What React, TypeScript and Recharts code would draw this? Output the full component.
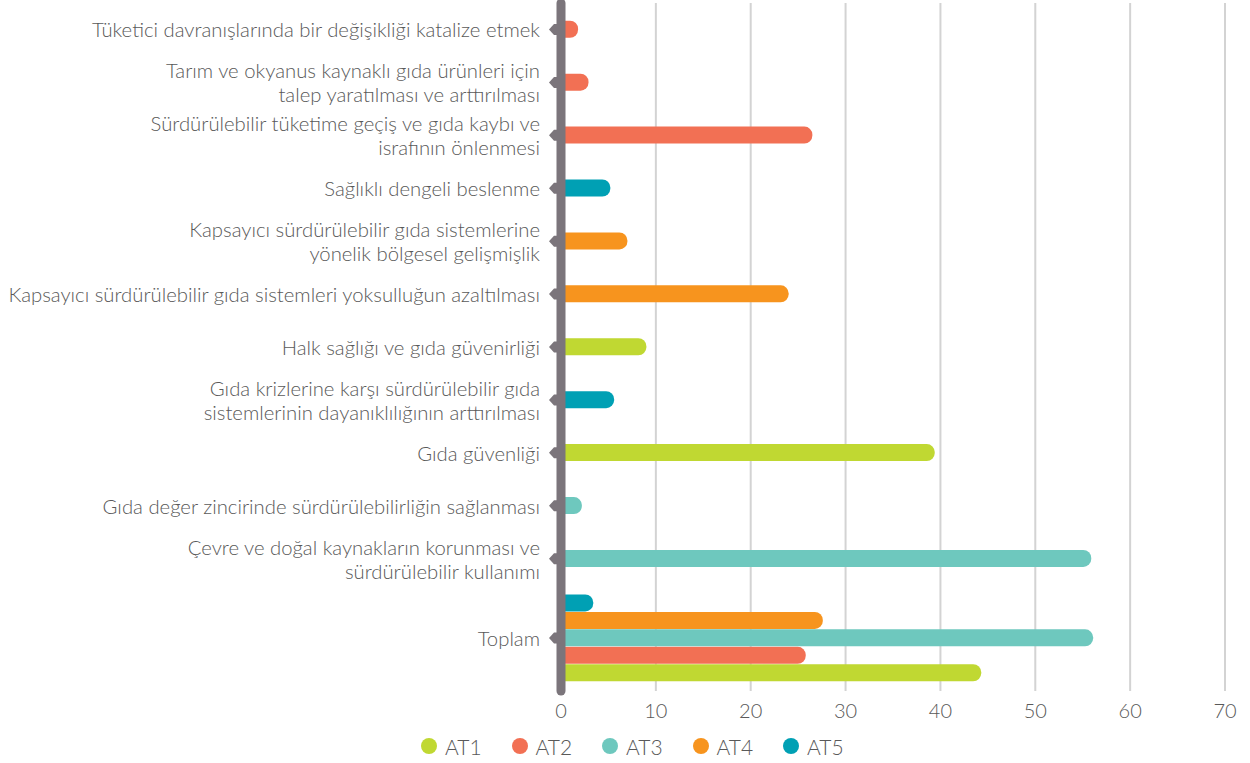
import React from "react";
import {
  BarChart,
  Bar,
  XAxis,
  YAxis,
  CartesianGrid,
  Cell,
  Legend,
  ReferenceLine,
} from "recharts";

// ---------- data ----------
const categories = [
  "Tüketici davranışlarında bir değişikliği katalize etmek",
  "Tarım ve okyanus kaynaklı gıda ürünleri için\ntalep yaratılması ve arttırılması",
  "Sürdürülebilir tüketime geçiş ve gıda kaybı ve\nisrafının önlenmesi",
  "Sağlıklı dengeli beslenme",
  "Kapsayıcı sürdürülebilir gıda sistemlerine\nyönelik bölgesel gelişmişlik",
  "Kapsayıcı sürdürülebilir gıda sistemleri yoksulluğun azaltılması",
  "Halk sağlığı ve gıda güvenirliği",
  "Gıda krizlerine karşı sürdürülebilir gıda\nsistemlerinin dayanıklılığının arttırılması",
  "Gıda güvenliği",
  "Gıda değer zincirinde sürdürülebilirliğin sağlanması",
  "Çevre ve doğal kaynakların korunması ve\nsürdürülebilir kullanımı",
];
const categorySeries = ["AT2", "AT2", "AT2", "AT5", "AT4", "AT4", "AT1", "AT5", "AT1", "AT3", "AT3"];
const categoryValues = [1.8, 2.9, 26.5, 5.2, 7.0, 24.0, 9.0, 5.6, 39.4, 2.2, 55.9];

const totalLabel = "Toplam";
const seriesNames = ["AT1", "AT2", "AT3", "AT4", "AT5"];
const totalValues = [44.3, 25.8, 56.1, 27.6, 3.4];

const seriesColors = ["#c0d832", "#f27054", "#6ec8be", "#f7941e", "#00a0b4"];
const xTicks = [0, 10, 20, 30, 40, 50, 60, 70];

// ---------- layout (slot units on the category axis) ----------
const TOTAL_SLOT_SPAN = 2;
const SLOT_COUNT = categories.length + TOTAL_SLOT_SPAN;
const TOTAL_CENTER = categories.length + TOTAL_SLOT_SPAN / 2;
const SUB_STEP = 0.33;

const colorOf = (name: string) => seriesColors[seriesNames.indexOf(name)];

const chartData = [
  ...categories.map((_, i) => ({
    pos: i + 0.5,
    value: categoryValues[i],
    color: colorOf(categorySeries[i]),
  })),
  ...seriesNames.map((name, k) => ({
    pos: TOTAL_CENTER + (2 - k) * SUB_STEP,
    value: totalValues[k],
    color: colorOf(name),
  })),
];

const yTickPositions = [...categories.map((_, i) => i + 0.5), TOTAL_CENTER];
const yTickLabels = [...categories, totalLabel];

const TEXT_COLOR = "#595959";
const AXIS_COLOR = "#7b757b";
const FONT = "'Lato Light', Lato, 'Open Sans', sans-serif";

const YTick = (props: any) => {
  const { x, y, index } = props;
  const label: string = yTickLabels[index] ?? "";
  const lines = label.split("\n");
  const lh = 24;
  const startDy = -((lines.length - 1) * lh) / 2;
  return (
    <g>
      <polygon
        points={`${x - 12},${y} ${x - 7},${y - 5.5} ${x},${y - 5.5} ${x},${y + 5.5} ${x - 7},${y + 5.5}`}
        fill={AXIS_COLOR}
      />
      <text
        x={x - 21}
        y={y}
        textAnchor="end"
        fill={TEXT_COLOR}
        fontSize={20.3}
        fontFamily={FONT}
        fontWeight={300}
      >
        {lines.map((ln, i) => (
          <tspan key={i} x={x - 21} y={y + startDy + i * lh} dominantBaseline="central">
            {ln}
          </tspan>
        ))}
      </text>
    </g>
  );
};

const LegendContent = () => (
  <div
    style={{
      height: 42,
      paddingTop: 8,
      paddingLeft: 421,
      boxSizing: "border-box",
      display: "flex",
      justifyContent: "flex-start",
      alignItems: "center",
      fontFamily: FONT,
      fontWeight: 300,
      fontSize: 21,
      color: TEXT_COLOR,
    }}
  >
    {seriesNames.map((name, k) => (
      <div key={name} style={{ display: "flex", alignItems: "center", width: k < seriesNames.length - 1 ? 90.5 : undefined }}>
        <span
          style={{
            display: "inline-block",
            width: 16,
            height: 16,
            borderRadius: 8,
            background: seriesColors[k],
            marginRight: 8,
          }}
        />
        <span>{name}</span>
      </div>
    ))}
  </div>
);

export default function App() {
  return (
    <div style={{ position: "absolute", left: 0, top: 0, fontFamily: FONT, fontWeight: 300 }}>
      <BarChart
        width={1250}
        height={763}
        data={chartData}
        layout="vertical"
        margin={{ top: 3, right: 25, left: 0, bottom: 0 }}
      >
        <CartesianGrid horizontal={false} vertical stroke="#d3d3d3" strokeWidth={2} />
        <XAxis
          type="number"
          domain={[0, 70]}
          ticks={xTicks}
          interval={0}
          axisLine={false}
          tickLine={false}
          tickSize={0}
          tickMargin={13}
          height={30}
          tick={{ fill: TEXT_COLOR, fontSize: 20, fontFamily: FONT, fontWeight: 300 }}
        />
        <YAxis
          type="number"
          dataKey="pos"
          domain={[0, SLOT_COUNT]}
          ticks={yTickPositions}
          interval={0}
          width={561}
          axisLine={false}
          tickLine={false}
          tickSize={0}
          tickMargin={0}
          tick={<YTick />}
        />
        <Legend verticalAlign="bottom" content={<LegendContent />} />
        <Bar dataKey="value" barSize={17} radius={[0, 8, 8, 0]} isAnimationActive={false}>
          {chartData.map((d, i) => (
            <Cell key={i} fill={d.color} />
          ))}
        </Bar>
        <ReferenceLine
          x={0}
          stroke={AXIS_COLOR}
          strokeWidth={9}
          strokeLinecap="round"
          segment={[
            { x: 0, y: 0.08 },
            { x: 0, y: SLOT_COUNT },
          ]}
        />
      </BarChart>
    </div>
  );
}
